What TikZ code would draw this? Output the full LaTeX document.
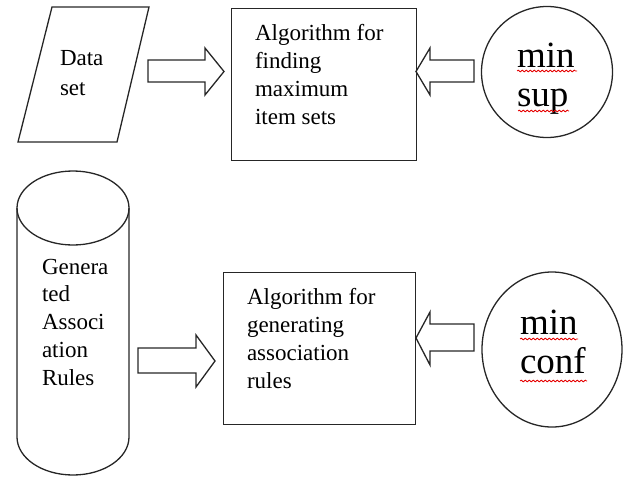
\documentclass[tikz,border=0pt]{standalone}
\usepackage{fontspec}
\setmainfont{Liberation Serif}
\usetikzlibrary{decorations.pathmorphing,shapes.geometric}
\begin{document}
\begin{tikzpicture}[x=1pt,y=-1pt,
  shape line/.style={draw=black!85, line width=1.3pt, line join=miter},
  arrow line/.style={draw=black!85, line width=1.3pt, line join=miter},
  label text/.style={inner sep=0pt, outer sep=0pt, align=left, anchor=base west,
     font=\fontsize{23}{27.7}\selectfont},
  big text/.style={inner sep=0pt, outer sep=0pt, align=left, anchor=base west,
     font=\fontsize{37}{39}\selectfont},
  spell/.style={draw=red!90!black, line width=0.8pt,
     decorate, decoration={snake, segment length=4pt, amplitude=0.9pt}}]
\useasboundingbox (0,0) rectangle (627,479);

% Data set (parallelogram)
\coordinate (dsA) at (52,7);
\coordinate (dsB) at (149,7);
\coordinate (dsC) at (117,142);
\coordinate (dsD) at (18,142);
\draw[shape line] (dsA) -- (dsB) -- (dsC) -- (dsD) -- cycle;
\node[label text] (dstext) at (60,95) {Data\\[1.5pt]set};

% Box 1
\node[shape line, rectangle, minimum width=185, minimum height=152, inner sep=0pt, anchor=north west] (box1) at (231,8) {};
\node[label text] (box1text) at (255,124) {Algorithm for\\finding\\maximum\\item sets};

% min sup circle
\node[shape line, circle, minimum size=131, inner sep=0pt] (minsup) at (547,72) {};
\node[big text] (minsuptext) at (517,106) {min\\sup};
\draw[spell] (517,71) -- (577,71);
\draw[spell] (518,111) -- (569,111);

% Arrow data set -> box 1
\draw[arrow line] (148,60) -- (205,60) -- (205,48) -- (224,71.5) -- (205,95) -- (205,82) -- (148,82) -- cycle;
% Arrow min sup -> box 1
\draw[arrow line] (474,60) -- (430,60) -- (430,48) -- (416,71.5) -- (430,95) -- (430,82) -- (474,82) -- cycle;

% Cylinder
\draw[shape line] (17,208) -- (17,437) arc[start angle=180, end angle=0, x radius=56, y radius=38] -- (129,208);
\draw[shape line] (73,208) ellipse[x radius=56, y radius=37];
\coordinate (cyl) at (73,340);
\node[label text] (cyltext) at (42,385) {Genera\\ted\\Associ\\ation\\Rules};

% Box 2
\node[shape line, rectangle, minimum width=192, minimum height=152, inner sep=0pt, anchor=north west] (box2) at (223,272) {};
\node[label text] (box2text) at (247,388) {Algorithm for\\generating\\association\\rules};

% min conf circle
\node[shape line, ellipse, minimum width=140, minimum height=155, inner sep=0pt] (minconf) at (552,349.5) {};
\node[big text] (minconftext) at (520,373) {min\\conf};
\draw[spell] (520,339) -- (578,339);
\draw[spell] (520,381) -- (587,381);

% Arrow cylinder -> box 2
\draw[arrow line] (138,348) -- (196,348) -- (196,335) -- (215,361) -- (196,387) -- (196,373) -- (138,373) -- cycle;
% Arrow min conf -> box 2
\draw[arrow line] (474,324) -- (430,324) -- (430,312) -- (416,338) -- (430,365) -- (430,351) -- (474,351) -- cycle;
\end{tikzpicture}
\end{document}
